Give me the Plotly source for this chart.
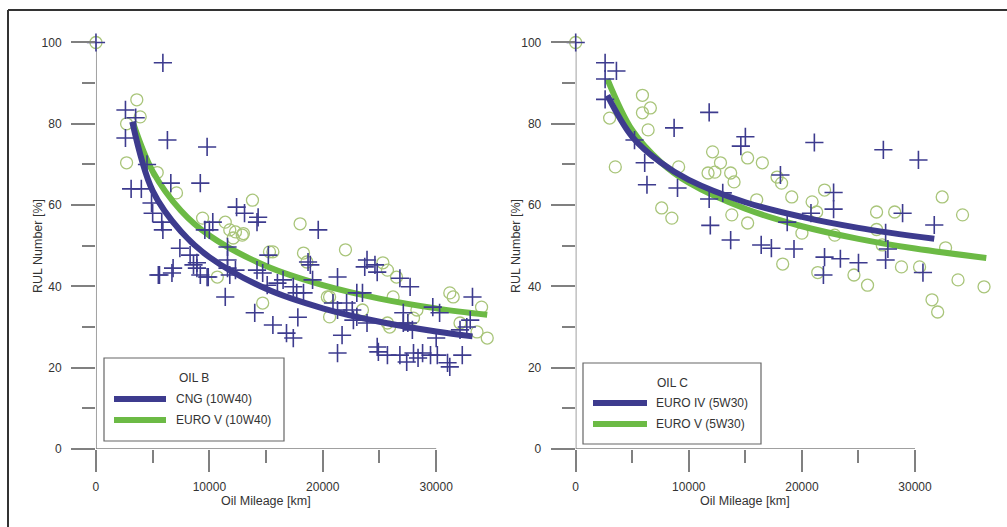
import plotly.graph_objects as go

# ---------------- data ----------------
# Left panel: OIL B
b_cng_x = [0, 2600, 3500, 2600, 6300, 9800, 3100, 4000, 6600, 9200, 4900, 5000, 5800, 5900, 4500, 5900,
           12400, 13100, 14300, 14200, 10300, 9600, 19600, 11600, 7400, 8300, 8900, 15200, 18700, 23900,
           23700, 24600, 6800, 11600, 12300, 5600, 6700, 8900, 9200, 9900, 11800, 11600, 14200, 14700,
           15100, 16000, 16500, 14000, 15600, 16800, 17400, 17800, 17700, 17400, 18300, 19100, 18900,
           21300, 20900, 21300, 22100, 22600, 21700, 21300, 23000, 22700, 23000, 23500, 24800, 23900,
           24800, 24900, 25700, 26800, 27400, 28000, 28400, 28800, 29500, 30100, 31000, 31200, 27100,
           27100, 27500, 27900, 26800, 27700, 29700, 30300, 30000, 32100, 32300, 33000, 33200, 32700,
           8600, 9800, 5500, 10000, 11400]
b_cng_y = [100, 83.4, 81.5, 76.5, 76, 74.3, 64, 64, 65.4, 65.4, 60.5, 58, 55.8, 53.9, 70, 95,
           59.5, 58, 57, 55.8, 55.8, 53.9, 53.9, 49.7, 49.4, 47.7, 45.8, 47.7, 46, 46.5,
           44.8, 45.3, 44.5, 46.5, 44, 42.8, 43.3, 44.5, 42.8, 42.3, 42.8, 44.5, 44, 43.3,
           40.3, 40.8, 41.6, 33.5, 30.5, 28.5, 27.3, 32.4, 38.4, 39.9, 38.4, 41.6, 45.3,
           42.3, 35.9, 34.2, 35.9, 34.2, 28, 23.6, 32.5, 31.7, 38.4, 38.4, 43.5, 31,
           25.1, 23.9, 23.1, 23.1, 21.4, 23.6, 22.4, 23.6, 23.1, 23.1, 21.2, 20.2, 33.5,
           31, 31, 29.3, 42, 39.9, 34.9, 33.5, 27.3, 29.3, 23.1, 31.7, 37.4, 30,
           45.3, 42.3, 42.8, 53.9, 37.4]
b_euro_x = [0, 3600, 3900, 2700, 2700, 5400, 7100, 13800, 9400, 11400, 11800, 12900, 12100, 18000,
            22000, 18300, 18600, 15300, 10700, 14700, 20600, 20600, 25300, 26200, 25700, 25900,
            31200, 31500, 32100, 33600, 34500, 34000, 28300, 28000, 25700, 26500, 20400, 23500,
            12300, 13000, 15600]
b_euro_y = [100, 85.9, 81.7, 80, 70.4, 68, 63, 61.2, 56.8, 55.8, 53.9, 52.6, 51.9, 55.4,
            49, 48.2, 46, 48.5, 42.3, 35.9, 37.4, 32.5, 45.8, 37.4, 31, 30,
            38.4, 37.4, 31, 28.8, 27.3, 34.9, 34.2, 32.2, 44, 42.3, 37.4, 34.2,
            53.4, 53, 48.5]
# fitted curves (read at a few mileages)
b_cng_fit_x = [3200, 5000, 7500, 10000, 15000, 20000, 25000, 30000, 33200]
b_cng_fit_y = [80.5, 63.5, 53.5, 47.2, 39.4, 34.6, 31.3, 28.9, 27.7]
b_euro_fit_x = [3300, 5000, 7500, 10000, 15000, 20000, 25000, 30000, 34500]
b_euro_fit_y = [80, 68.3, 58.6, 52.5, 45, 40.3, 37, 34.6, 33]

# Right panel: OIL C
c_e4_x = [0, 2600, 3600, 2600, 2600, 5200, 6100, 6300, 9000, 8700, 11800, 15000, 14600, 11800,
          13000, 11900, 13700, 16400, 17300, 19300, 18100, 18700, 21100, 22800, 22800, 22000,
          23400, 25000, 20800, 27200, 30300, 28900, 31700, 27400, 27600, 27400, 21900, 30700]
c_e4_y = [100, 95, 93, 91, 86, 76, 70.4, 65, 64.2, 79, 82.8, 76.8, 74.5, 61.5,
          63, 55, 51.4, 50.2, 49.4, 49.2, 67.4, 55.8, 75.4, 63.1, 59, 47.2,
          46.8, 45.8, 58, 73.6, 71.1, 58, 55.1, 53.2, 49.2, 46.5, 42.8, 43.4]
c_e5_x = [0, 5900, 6600, 5900, 3000, 6400, 3500, 9100, 7600, 8500, 12100, 12800, 12300, 11700,
          13700, 14000, 15200, 16500, 13800, 15200, 16000, 17800, 18200, 19100, 20900, 22000,
          21300, 20000, 22900, 26600, 28200, 32400, 34200, 26600, 27100, 32700, 18300, 28800,
          30400, 21400, 24600, 25800, 33800, 36100, 31500, 32000]
c_e5_y = [100, 87, 83.9, 82.7, 81.4, 78.5, 69.4, 69.4, 59.3, 56.8, 73.1, 70.4, 68.1, 67.9,
          67.9, 65.7, 71.6, 70.4, 57.6, 55.6, 61.3, 66.9, 65.4, 62, 60.8, 63.7,
          58.3, 53.1, 52.6, 58.3, 58.3, 62, 57.6, 54, 50.2, 49.5, 45.5, 44.8,
          44.8, 43.4, 42.8, 40.3, 41.6, 39.9, 36.7, 33.7]
c_e4_fit_x = [2800, 5000, 7500, 10000, 15000, 20000, 25000, 31700]
c_e4_fit_y = [87, 76.8, 70.5, 66.2, 60.7, 57.1, 54.4, 51.7]
c_e5_fit_x = [2800, 5000, 7500, 10000, 15000, 20000, 25000, 30000, 36300]
c_e5_fit_y = [91, 78.4, 70.6, 65.5, 59.1, 54.8, 51.7, 49.3, 47]

x_ticks = [0, 10000, 20000, 30000]
x_minor = [5000, 15000, 25000]
y_ticks = [0, 20, 40, 60, 80, 100]
y_minor = [10, 30, 50, 70, 90]

panel_b_title = "OIL B"
panel_c_title = "OIL C"
names_b = ["CNG (10W40)", "EURO V (10W40)"]
names_c = ["EURO IV (5W30)", "EURO V (5W30)"]
x_title = "Oil Mileage [km]"
y_title = "RUL Number [%]"

# ---------------- style ----------------
BLUE = "#3d3b8e"
GREEN = "#6cba45"
CIRC = "#a9c57a"
AX = "#808080"
TXT = "#333333"
FONT = "Liberation Sans, Arial, sans-serif"
W, H = 1007, 527

fig = go.Figure()


def add_panel(xa, ya, cx, cy, px_, py_, fx1, fy1, fx2, fy2, names):
    fig.add_trace(go.Scatter(x=cx, y=cy, mode="markers", xaxis=xa, yaxis=ya, showlegend=False,
                             cliponaxis=False, hoverinfo="skip",
                             marker=dict(symbol="circle-open", size=12, color=CIRC,
                                         line=dict(width=1.3, color=CIRC))))
    fig.add_trace(go.Scatter(x=fx2, y=fy2, mode="lines", xaxis=xa, yaxis=ya, name=names[1],
                             showlegend=False, line=dict(color=GREEN, width=6, shape="spline"),
                             cliponaxis=False))
    fig.add_trace(go.Scatter(x=px_, y=py_, mode="markers", xaxis=xa, yaxis=ya, showlegend=False,
                             cliponaxis=False, hoverinfo="skip",
                             marker=dict(symbol="cross-thin", size=13, color=BLUE,
                                         line=dict(width=1.6, color=BLUE))))
    fig.add_trace(go.Scatter(x=fx1, y=fy1, mode="lines", xaxis=xa, yaxis=ya, name=names[0],
                             showlegend=False, line=dict(color=BLUE, width=6, shape="spline"),
                             cliponaxis=False))


add_panel("x", "y", b_euro_x, b_euro_y, b_cng_x, b_cng_y,
          b_cng_fit_x, b_cng_fit_y, b_euro_fit_x, b_euro_fit_y, names_b)
add_panel("x2", "y2", c_e5_x, c_e5_y, c_e4_x, c_e4_y,
          c_e4_fit_x, c_e4_fit_y, c_e5_fit_x, c_e5_fit_y, names_c)

xcommon = dict(showgrid=False, zeroline=False, showline=False, tickmode="array", tickvals=x_ticks,
               ticktext=[str(v) for v in x_ticks], automargin=False,
               ticks="outside", ticklen=22, tickwidth=1.5, tickcolor=AX, ticklabelstandoff=5,
               tickfont=dict(family=FONT, size=12, color=TXT),
               minor=dict(tickmode="array", tickvals=x_minor, ticks="outside", ticklen=13,
                          tickwidth=1.5, tickcolor=AX, showgrid=False))
ycommon = dict(showgrid=False, zeroline=False, showline=False, tickmode="array", tickvals=y_ticks,
               range=[0, 100], ticks="outside", ticklen=24, tickwidth=1.5, tickcolor=AX,
               ticklabelstandoff=7, automargin=False,
               tickfont=dict(family=FONT, size=12, color=TXT),
               minor=dict(tickmode="array", tickvals=y_minor, ticks="outside", ticklen=13,
                          tickwidth=1.5, tickcolor=AX, showgrid=False))

fig.update_layout(
    width=W, height=H, margin=dict(l=0, r=0, t=0, b=0, pad=0, autoexpand=False),
    paper_bgcolor="white", plot_bgcolor="white", showlegend=False,
    xaxis=dict(domain=[0.0953, 0.4951], range=[0, 35500], anchor="y", **xcommon),
    yaxis=dict(domain=[0.1480, 0.9194], anchor="x", **ycommon),
    xaxis2=dict(domain=[0.5717, 0.9873], range=[0, 37000], anchor="y2", **xcommon),
    yaxis2=dict(domain=[0.1480, 0.9194], anchor="x2", **ycommon),
)

# axis lines (from the tick arrays)
for xr, yr in (("x", "y"), ("x2", "y2")):
    fig.add_shape(type="line", xref=xr, yref=yr, x0=x_ticks[0], x1=x_ticks[-1], y0=y_ticks[0],
                  y1=y_ticks[0], line=dict(color=AX, width=1.5), layer="below")
    fig.add_shape(type="line", xref=xr, yref=yr, x0=x_ticks[0], x1=x_ticks[0], y0=y_ticks[0],
                  y1=y_ticks[-1], line=dict(color=AX, width=1.5), layer="below")


def px(x):
    return x / W


def py(y):
    return 1 - y / H


# frame (top and left edges of the cropped figure)
fig.add_shape(type="line", xref="paper", yref="paper", x0=px(8), x1=1, y0=py(10), y1=py(10),
              line=dict(color="#333333", width=2))
fig.add_shape(type="line", xref="paper", yref="paper", x0=px(8), x1=px(8), y0=0, y1=py(10),
              line=dict(color="#333333", width=2))

# axis titles
for xc in (266, 745):
    fig.add_annotation(x=px(xc), y=py(501), xref="paper", yref="paper", text=x_title,
                       xanchor="center", yanchor="middle",
                       showarrow=False, font=dict(family=FONT, size=12.5, color=TXT))
for xc in (38, 516):
    fig.add_annotation(x=px(xc), y=py(246), xref="paper", yref="paper", text=y_title,
                       xanchor="center", yanchor="middle",
                       textangle=-90, showarrow=False, font=dict(family=FONT, size=12.5, color=TXT))


# legend boxes (drawn as in the original: title, two swatches)
def legend_box(x0, x1, y0, y1, title, names, title_y, item_y, sw_x0, sw_x1, text_x):
    fig.add_shape(type="rect", xref="paper", yref="paper", x0=px(x0), x1=px(x1), y0=py(y1),
                  y1=py(y0), line=dict(color="#666666", width=1.2), fillcolor="white")
    fig.add_annotation(x=px((x0 + x1) / 2), y=py(title_y), xref="paper", yref="paper", text=title,
                       xanchor="center", yanchor="middle", showarrow=False,
                       font=dict(family=FONT, size=12, color=TXT))
    for name, col, yy in zip(names, (BLUE, GREEN), item_y):
        fig.add_shape(type="line", xref="paper", yref="paper", x0=px(sw_x0), x1=px(sw_x1),
                      y0=py(yy), y1=py(yy), line=dict(color=col, width=6))
        fig.add_annotation(x=px(text_x), y=py(yy), xref="paper", yref="paper", text=name,
                           xanchor="left", yanchor="middle", showarrow=False,
                           font=dict(family=FONT, size=12, color=TXT))


legend_box(104, 284, 358, 441, panel_b_title, names_b, 378, (399, 420), 114, 166, 174)
legend_box(583, 761, 363, 444, panel_c_title, names_c, 383, (403, 424), 593, 647, 654)

fig.write_html("out.html")
